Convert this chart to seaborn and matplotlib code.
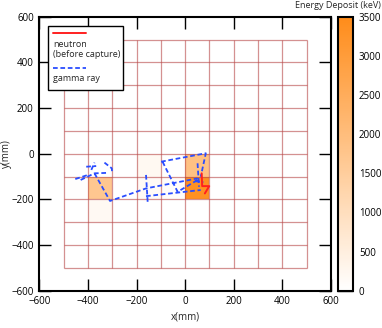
import numpy as np
import pandas as pd
import matplotlib
matplotlib.use("Agg")
import matplotlib.pyplot as plt
from matplotlib.colors import LinearSegmentedColormap
from matplotlib.lines import Line2D
from matplotlib.patches import Rectangle
import seaborn as sns

# ---------------- data ----------------
# energy-deposit cells (cell centres in mm, energy in keV)
cell_x = [-350, -350, -450, -150, -150, -50, 50, 50]
cell_y = [-150, -250, -150, -50, -150, -150, -50, -150]
cell_energy = [1700, 180, 40, 200, 150, 90, 1900, 3350]

# neutron track (before capture)
neutron_x = [68, 70, 99, 81]
neutron_y = [-86, -142, -142, -174]

# gamma-ray tracks (segments separated by NaN)
nan = np.nan
gamma_x = [-452, -400, nan,
           -430, -373, -322, nan,
           -407, -366, nan,
           -386, -373, nan,
           -332, -302, -300, nan,
           -373, -309, -161, 51, nan,
           -161, -154, nan,
           -161, 64, nan,
           -99, 85, 64, nan,
           -93, -31, 51, nan,
           51, 57, nan,
           40, 75]
gamma_y = [-111, -93, nan,
           -115, -86, -84, nan,
           -57, -54, nan,
           -71, -39, nan,
           -39, -64, -85, nan,
           -86, -207, -152, -108, nan,
           -93, -215, nan,
           -186, -159, nan,
           -35, 2, -101, nan,
           -35, -167, -115, nan,
           -42, -145, nan,
           -120, -125]

x_ticks = [-600, -400, -200, 0, 200, 400, 600]
y_ticks = [-600, -400, -200, 0, 200, 400, 600]
cbar_ticks = [0, 500, 1000, 1500, 2000, 2500, 3000, 3500]
grid_lines = [-500, -400, -300, -200, -100, 0, 100, 200, 300, 400, 500]

# ---------------- style ----------------
sns.set_style("ticks")
plt.rcParams["font.family"] = ["Open Sans", "DejaVu Sans"]
plt.rcParams["font.size"] = 7

fig = plt.figure(figsize=(3.82, 3.28), dpi=100)
ax = fig.add_axes([0.1029, 0.1137, 0.7636, 0.8354])
cax = fig.add_axes([0.884, 0.1137, 0.0408, 0.8354])

cmap = LinearSegmentedColormap.from_list("edep", ["#ffffff", "#ff8c1a"])

df = pd.DataFrame({"x": cell_x, "y": cell_y, "e": cell_energy})
sns.histplot(data=df, x="x", y="y", weights="e", bins=10,
             binrange=((-500, 500), (-500, 500)), cmap=cmap,
             vmin=0, vmax=3500, cbar=True, cbar_ax=cax, ax=ax,
             zorder=1)

# cell grid
ax.vlines(grid_lines, -500, 500, colors="#b84848", linewidth=0.9, alpha=0.6, zorder=2)
ax.hlines(grid_lines, -500, 500, colors="#b84848", linewidth=0.9, alpha=0.6, zorder=2)

# tracks
dash = (0, (2.6, 1.5))
ax.plot(gamma_x, gamma_y, color="#2a4dff", linewidth=1.3, linestyle=dash, zorder=4)
ax.plot(neutron_x, neutron_y, color="#ff2020", linewidth=1.4, zorder=5)

ax.set_xlim(-600, 600)
ax.set_ylim(-600, 600)
ax.set_xticks(x_ticks)
ax.set_yticks(y_ticks)
ax.tick_params(direction="in", length=8.5, width=1, top=True, right=True,
               labelsize=7, pad=4, colors="black")
for sp in ax.spines.values():
    sp.set_linewidth(1.5)
    sp.set_color("black")
ax.set_xlabel("x(mm)", fontsize=7, labelpad=3)
ax.set_ylabel("y(mm)", fontsize=7)
ax.yaxis.set_label_coords(-0.093, 0.5)

# legend (drawn manually: handle above label)
ax.add_patch(Rectangle((0.029, 0.7325), 0.258, 0.2335, transform=ax.transAxes,
                       facecolor="white", edgecolor="black", linewidth=1, zorder=6))
ax.add_line(Line2D([0.047, 0.160], [0.9405, 0.9405], transform=ax.transAxes,
                   color="#ff2020", linewidth=1.4, zorder=7))
ax.text(0.047, 0.882, "neutron\n(before capture)", transform=ax.transAxes,
        ha="left", va="center", fontsize=6.5, linespacing=1.15, zorder=7)
ax.add_line(Line2D([0.047, 0.160], [0.813, 0.813], transform=ax.transAxes,
                   color="#2a4dff", linewidth=1.3, linestyle=dash, zorder=7))
ax.text(0.047, 0.773, "gamma ray", transform=ax.transAxes,
        ha="left", va="center", fontsize=6.5, zorder=7)

# colorbar
cax.set_yticks(cbar_ticks)
cax.set_ylim(0, 3500)
cax.tick_params(axis="y", direction="in", length=11.2, width=1, left=False,
                right=True, labelsize=7, pad=4, colors="black")
for sp in cax.spines.values():
    sp.set_linewidth(1.5)
    sp.set_color("black")
for c in cax.get_children():
    if c.__class__.__name__ == "Polygon":
        c.set_linewidth(1.5)
        c.set_edgecolor("black")
fig.text(0.997, 0.984, "Energy Deposit (keV)", ha="right", va="center", fontsize=6.5)

fig.savefig("out.png", dpi=100)
